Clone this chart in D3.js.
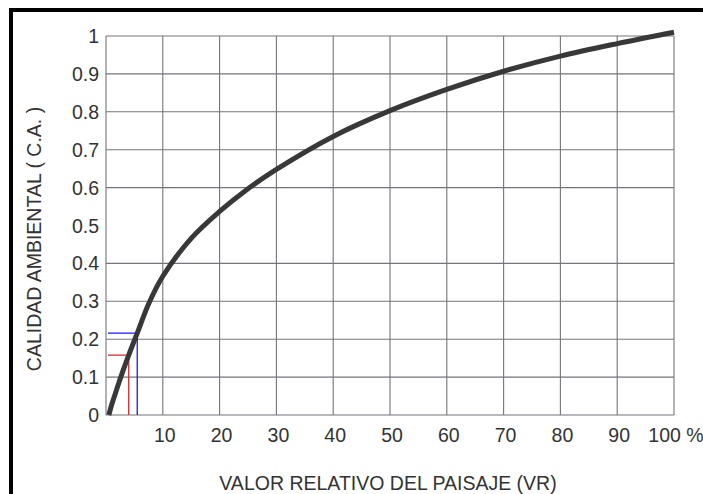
<!DOCTYPE html>
<html>
<head>
<meta charset="utf-8">
<script src="https://cdn.jsdelivr.net/npm/d3@7"></script>
<style>
    body { margin: 0; background: #fff; }
    text { font-family: "Liberation Sans", Arial, sans-serif; fill: #333; }
</style>
</head>
<body>
<div id="chart"></div>
<script>
// Curve: VR (%) -> CA
let vr_values = [0.5, 1, 2, 3, 4, 5.5, 7.5, 10, 15, 20, 25, 30, 40, 50, 60, 70, 80, 90, 100];
let ca_values = [0, 0.027, 0.073, 0.117, 0.158, 0.216, 0.293, 0.366, 0.466, 0.537, 0.597, 0.648, 0.735, 0.803, 0.859, 0.907, 0.947, 0.98, 1.01];

// Reading lines (red and blue)
let marker_vr = [4, 5.5];
let marker_ca = [0.158, 0.216];
let marker_colors = ["#d22a2a", "#1a1aee"];

let x_ticks = [10, 20, 30, 40, 50, 60, 70, 80, 90, 100];
let x_tick_labels = ["10", "20", "30", "40", "50", "60", "70", "80", "90", "100 %"];
let x_grid = [0, 10, 20, 30, 40, 50, 60, 70, 80, 90, 100];
let y_ticks = [0, 0.1, 0.2, 0.3, 0.4, 0.5, 0.6, 0.7, 0.8, 0.9, 1];
let y_tick_labels = ["0", "0.1", "0.2", "0.3", "0.4", "0.5", "0.6", "0.7", "0.8", "0.9", "1"];
let y_grid = [0, 0.1, 0.2, 0.3, 0.4, 0.6, 0.7, 0.8, 0.9, 1];   // no 0.5 line in the original

let x_title = "VALOR RELATIVO DEL PAISAJE (VR)";
let y_title = "CALIDAD AMBIENTAL ( C.A. )";

let svg_width = 703, svg_height = 494;
let margin = { top: 36, right: 29, bottom: 79, left: 106 },
    width = svg_width - margin.left - margin.right,
    height = svg_height - margin.top - margin.bottom;

let root = d3.select("#chart")
    .append("svg")
        .attr("width", svg_width)
        .attr("height", svg_height);

root.append("rect")
    .attr("width", svg_width)
    .attr("height", svg_height)
    .attr("fill", "#fff");

// Black frame, top and left only.
root.append("rect")
    .attr("x", 9).attr("y", 8)
    .attr("width", svg_width - 9).attr("height", 4)
    .attr("fill", "#000");
root.append("rect")
    .attr("x", 9).attr("y", 8)
    .attr("width", 4).attr("height", svg_height - 8)
    .attr("fill", "#000");

let svg = root.append("g")
    .attr("transform", "translate(" + margin.left + "," + margin.top + ")");

// Scales.
let x_scale = d3.scaleLinear().domain([0, 100]).range([0, width]);
let y_scale = d3.scaleLinear().domain([0, 1]).range([height, 0]);

// Grid lines.
svg.append("g")
    .selectAll("line")
    .data(x_grid)
    .enter()
    .append("line")
        .attr("x1", d => x_scale(d)).attr("x2", d => x_scale(d))
        .attr("y1", 0).attr("y2", height)
        .attr("stroke", "#74747c")
        .attr("stroke-width", 1.1);
svg.append("g")
    .selectAll("line")
    .data(y_grid)
    .enter()
    .append("line")
        .attr("x1", 0).attr("x2", width)
        .attr("y1", d => y_scale(d)).attr("y2", d => y_scale(d))
        .attr("stroke", "#74747c")
        .attr("stroke-width", 1.1);

// Tick labels.
svg.append("g")
    .selectAll("text")
    .data(x_ticks)
    .enter()
    .append("text")
        .attr("x", d => x_scale(d) + 2)
        .attr("y", height + 27)
        .style("text-anchor", "middle")
        .style("font-size", "19.5px")
        .text((d, i) => x_tick_labels[i]);
svg.append("g")
    .selectAll("text")
    .data(y_ticks)
    .enter()
    .append("text")
        .attr("x", -7)
        .attr("y", d => y_scale(d))
        .attr("dy", "0.36em")
        .style("text-anchor", "end")
        .style("font-size", "19.5px")
        .text((d, i) => y_tick_labels[i]);

// Reading lines.
marker_vr.forEach(function(v, i) {
    let path = d3.path();
    path.moveTo(x_scale(0) + 2, y_scale(marker_ca[i]));
    path.lineTo(x_scale(v), y_scale(marker_ca[i]));
    path.lineTo(x_scale(v), y_scale(0));
    svg.append("path")
        .attr("d", path.toString())
        .attr("fill", "none")
        .attr("stroke", marker_colors[i])
        .attr("stroke-width", 1.3);
});

// The curve.
let curve_data = vr_values.map((v, i) => ({ x: v, y: ca_values[i] }));
let line = d3.line()
    .x(d => x_scale(d.x))
    .y(d => y_scale(d.y))
    .curve(d3.curveCatmullRom.alpha(0.5));
svg.append("path")
    .datum(curve_data)
    .attr("fill", "none")
    .attr("stroke", "#383838")
    .attr("stroke-width", 5)
    .attr("stroke-linecap", "butt")
    .attr("d", line);

// Axis titles.
root.append("text")
    .attr("x", margin.left + width / 2 - 2)
    .attr("y", 490)
    .style("text-anchor", "middle")
    .style("font-size", "19.5px")
    .text(x_title);
root.append("text")
    .attr("transform", "translate(41," + 239 + ") rotate(-90)")
    .style("text-anchor", "middle")
    .style("font-size", "19.5px")
    .text(y_title);
</script>
</body>
</html>
